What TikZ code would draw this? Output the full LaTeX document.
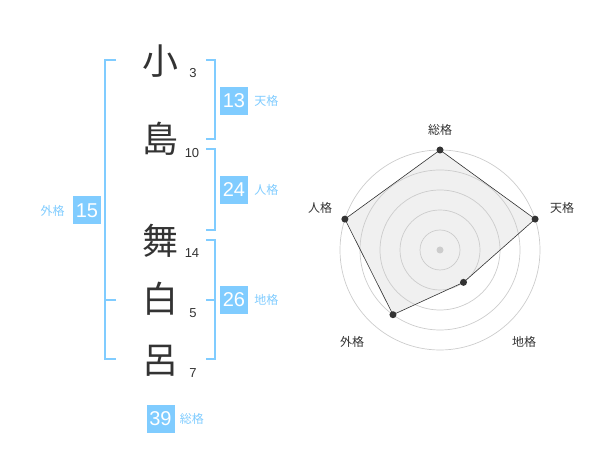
\documentclass[tikz,border=0pt]{standalone}
\usepackage{fontspec}
\setmainfont{Liberation Sans}
\newfontfamily\jp{Noto Sans CJK JP}
\usetikzlibrary{positioning}
\definecolor{kakublue}{HTML}{80CCFF}
\definecolor{inkgray}{HTML}{333333}
\definecolor{ringgray}{HTML}{CCCCCC}
\definecolor{areagray}{HTML}{F0F0F0}

\begin{document}
\begin{tikzpicture}[x=1pt,y=1pt,
    kanji/.style={font=\jp\fontsize{36}{36}\selectfont,text=inkgray,inner sep=0pt},
    strokes/.style={font=\fontsize{13}{13}\selectfont,text=inkgray,inner sep=0pt},
    kakubox/.style={fill=kakublue,text=white,font=\fontsize{20}{20}\selectfont,minimum size=28pt,inner sep=0pt},
    kakuname/.style={font=\jp\fontsize{12}{12}\selectfont,text=kakublue,inner sep=0pt},
    bracket/.style={draw=kakublue,line width=2pt},
    ring/.style={draw=ringgray,line width=0.7pt},
    axisname/.style={font=\jp\fontsize{12}{12}\selectfont,text=inkgray,inner sep=0pt},
    vdot/.style={circle,fill=inkgray,inner sep=0pt,minimum size=7pt}]
    \useasboundingbox (0,0) rectangle (600,470);

    % name
    \node[kanji] (k1) at (160,409) {小};
    \node[kanji] (k2) at (160,331) {島};
    \node[kanji] (k3) at (160,229) {舞};
    \node[kanji] (k4) at (160,171) {白};
    \node[kanji] (k5) at (160,109) {呂};
    \node[strokes] (s1) at ([shift={(33,-12)}]k1) {3};
    \node[strokes] (s2) at ([shift={(32,-14)}]k2) {10};
    \node[strokes] (s3) at ([shift={(32,-12)}]k3) {14};
    \node[strokes] (s4) at ([shift={(33,-14)}]k4) {5};
    \node[strokes] (s5) at ([shift={(33,-12)}]k5) {7};

    % brackets
    \coordinate (t1) at (206,410); \coordinate (t2) at (215,410);
    \coordinate (t3) at (215,331); \coordinate (t4) at (206,331);
    \coordinate (j1) at (206,321); \coordinate (j2) at (215,321);
    \coordinate (j3) at (215,240); \coordinate (j4) at (206,240);
    \coordinate (c1) at (206,230); \coordinate (c2) at (215,230);
    \coordinate (c3) at (215,111); \coordinate (c4) at (206,111);
    \coordinate (c5) at (206,170); \coordinate (c6) at (215,170);
    \coordinate (g1) at (116,410); \coordinate (g2) at (105,410);
    \coordinate (g3) at (105,111); \coordinate (g4) at (116,111);
    \coordinate (g5) at (116,170); \coordinate (g6) at (105,170);
    \draw[bracket] (t1) -- (t2) -- (t3) -- (t4);
    \draw[bracket] (j1) -- (j2) -- (j3) -- (j4);
    \draw[bracket] (c1) -- (c2) -- (c3) -- (c4);
    \draw[bracket] (c5) -- (c6);
    \draw[bracket] (g1) -- (g2) -- (g3) -- (g4);
    \draw[bracket] (g5) -- (g6);

    % fortunes
    \node[kakubox] (ten) at (234,369) {13};
    \node[kakubox] (jin) at (234,280) {24};
    \node[kakubox] (chi) at (234,170) {26};
    \node[kakubox] (gai) at (87,259.5) {15};
    \node[kakubox] (sou) at (160.5,51) {39};
    \node[kakuname,right=6pt of ten] (tenl) {天格};
    \node[kakuname,right=6pt of jin] (jinl) {人格};
    \node[kakuname,right=6pt of chi] (chil) {地格};
    \node[kakuname,left=8pt of gai] (gail) {外格};
    \node[kakuname,right=5pt of sou] (soul) {総格};

    % radar
    \coordinate (o) at (440,220);
    \coordinate (p1) at ([shift={(90:100)}]o);
    \coordinate (p2) at ([shift={(18:100)}]o);
    \coordinate (p3) at ([shift={(-54:40)}]o);
    \coordinate (p4) at ([shift={(-126:80)}]o);
    \coordinate (p5) at ([shift={(162:100)}]o);
    \fill[areagray] (p1) -- (p2) -- (p3) -- (p4) -- (p5) -- cycle;
    \foreach \r in {20,40,...,100}
        \draw[ring] (o) circle (\r);
    \fill[ringgray] (o) circle (3.5);
    \draw[inkgray,line width=0.6pt] (p1) -- (p2) -- (p3) -- (p4) -- (p5) -- cycle;
    \foreach \p in {p1,p2,p3,p4,p5}
        \node[vdot] at (\p) {};
    \node[axisname] (a1) at (440,340) {総格};
    \node[axisname] (a2) at (562,262) {天格};
    \node[axisname] (a3) at (524,128) {地格};
    \node[axisname] (a4) at (352,128) {外格};
    \node[axisname] (a5) at (320,262) {人格};
\end{tikzpicture}
\end{document}
